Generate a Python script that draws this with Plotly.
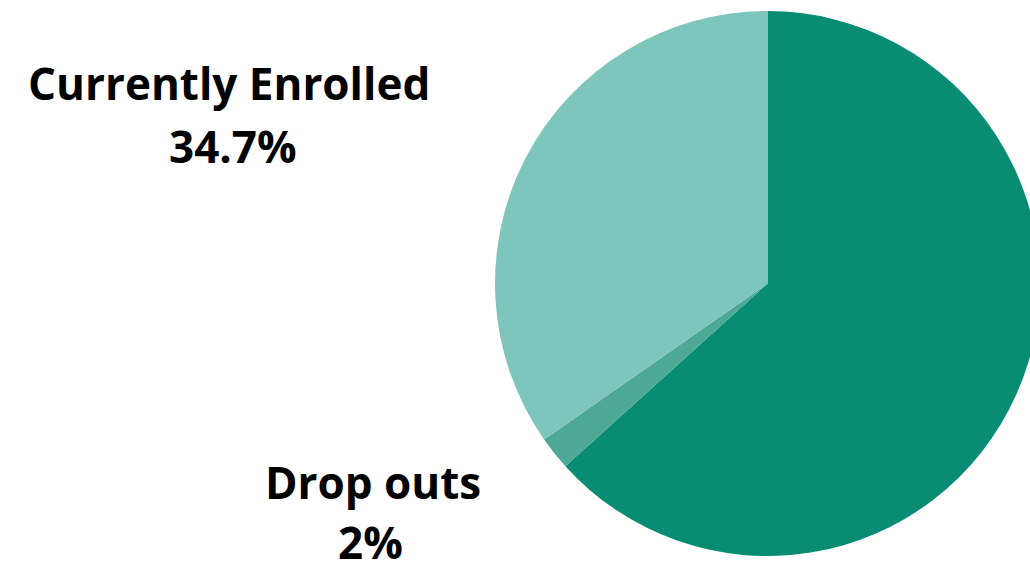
import plotly.graph_objects as go

# Student status breakdown
labels = ["Graduated", "Drop outs", "Currently Enrolled"]
values = [63.3, 2, 34.7]
value_text = ["63.3%", "2%", "34.7%"]
colors = ["#088C74", "#4DA996", "#7EC6BB"]

W, H = 1045, 562
cx, cy, r = 767.5, 283.5, 272.5

fig = go.Figure(
    go.Pie(
        labels=labels,
        values=values,
        sort=False,
        direction="clockwise",
        rotation=0,
        marker=dict(colors=colors, line=dict(width=0)),
        textinfo="none",
        hoverinfo="label+percent",
        domain=dict(x=[(cx - r) / W, (cx + r) / W],
                    y=[(H - cy - r) / H, (H - cy + r) / H]),
        showlegend=False,
    )
)

font = dict(family="Open Sans", size=44, color="#000000", weight=700)


def add_line(text, px, py):
    fig.add_annotation(
        text=text,
        x=px / W, y=1 - py / H, xref="paper", yref="paper",
        xanchor="center", yanchor="middle", showarrow=False,
        font=font, align="center",
    )


# label line and value line for the two called-out slices
add_line(labels[2], 228.5, 83)
add_line(value_text[2], 232.5, 145.5)
add_line(labels[1], 373, 482)
add_line(value_text[1], 370, 542)

fig.update_layout(
    width=W, height=H,
    margin=dict(l=0, r=0, t=0, b=0),
    paper_bgcolor="white", plot_bgcolor="white",
)

fig.write_html(
    "out.html",
    post_script=(
        "document.body.style.margin='0';"
        "document.body.style.overflow='hidden';"
        "document.documentElement.style.overflow='hidden';"
    ),
)
